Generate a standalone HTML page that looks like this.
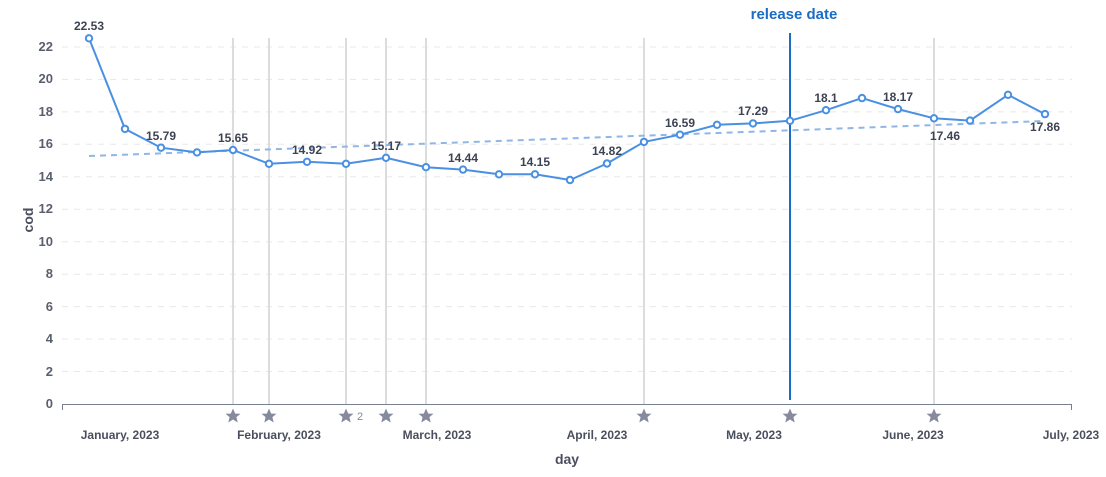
<!DOCTYPE html>
<html><head><meta charset="utf-8"><style>
body{margin:0;background:#fff;}
svg text{font-family:"Liberation Sans",sans-serif;}
</style></head><body>
<svg width="1106" height="472" xmlns="http://www.w3.org/2000/svg">
<defs><polygon id="st" points="0,-7.5 2.2,-2.4 7.5,-2.3 3.4,1.1 4.7,6.5 0,3.5 -4.7,6.5 -3.4,1.1 -7.5,-2.3 -2.2,-2.4" fill="#858a9c"/></defs>
<g stroke="#e8e8e8" stroke-dasharray="6,6" stroke-width="1">
<line x1="62" x2="1072" y1="371.5" y2="371.5"/><line x1="62" x2="1072" y1="339" y2="339"/><line x1="62" x2="1072" y1="306.6" y2="306.6"/><line x1="62" x2="1072" y1="274.2" y2="274.2"/><line x1="62" x2="1072" y1="241.7" y2="241.7"/><line x1="62" x2="1072" y1="209.2" y2="209.2"/><line x1="62" x2="1072" y1="176.8" y2="176.8"/><line x1="62" x2="1072" y1="144.3" y2="144.3"/><line x1="62" x2="1072" y1="111.9" y2="111.9"/><line x1="62" x2="1072" y1="79.4" y2="79.4"/><line x1="62" x2="1072" y1="47" y2="47"/>
</g>
<g font-size="13" font-weight="bold" fill="#5a5f6e" text-anchor="end">
<text x="53" y="408">0</text><text x="53" y="376">2</text><text x="53" y="343">4</text><text x="53" y="311">6</text><text x="53" y="278">8</text><text x="53" y="246">10</text><text x="53" y="213">12</text><text x="53" y="181">14</text><text x="53" y="148">16</text><text x="53" y="116">18</text><text x="53" y="83">20</text><text x="53" y="51">22</text>
</g>
<g stroke="#dcdcdc" stroke-width="2">
<line x1="233" x2="233" y1="38" y2="404"/><line x1="269" x2="269" y1="38" y2="404"/><line x1="346" x2="346" y1="38" y2="404"/><line x1="386" x2="386" y1="38" y2="404"/><line x1="426" x2="426" y1="38" y2="404"/><line x1="644" x2="644" y1="38" y2="404"/><line x1="934" x2="934" y1="38" y2="404"/>
</g>
<line x1="62" x2="1072" y1="404.5" y2="404.5" stroke="#7a7f90" stroke-width="1"/>
<line x1="62.5" x2="62.5" y1="404" y2="410" stroke="#7a7f90"/><line x1="1071.5" x2="1071.5" y1="404" y2="410" stroke="#7a7f90"/>
<line x1="790" x2="790" y1="33" y2="400" stroke="#1a6cc4" stroke-width="2"/>
<text x="794" y="19" font-size="15" font-weight="bold" fill="#1a6cc4" text-anchor="middle">release date</text>
<line x1="89" y1="156" x2="1045" y2="121" stroke="#8fb6e6" stroke-width="2" stroke-dasharray="6,5"/>
<polyline fill="none" stroke="#4a90e2" stroke-width="2" points="89,38.3 125,128.9 161,147.7 197,152.4 233,150 269,163.8 307,161.8 346,163.8 386,157.8 426,167.2 463,169.6 499,174.3 535,174.3 570,180 607,163.5 644,141.9 680,134.7 717,124.8 753,123.4 790,120.8 826,110.2 862,98.1 898,109.1 934,118.3 970,120.6 1008,94.8 1045,114.1"/>
<g fill="#fff" stroke="#4a90e2" stroke-width="2">
<circle cx="89" cy="38.3" r="3.2"/><circle cx="125" cy="128.9" r="3.2"/><circle cx="161" cy="147.7" r="3.2"/><circle cx="197" cy="152.4" r="3.2"/><circle cx="233" cy="150" r="3.2"/><circle cx="269" cy="163.8" r="3.2"/><circle cx="307" cy="161.8" r="3.2"/><circle cx="346" cy="163.8" r="3.2"/><circle cx="386" cy="157.8" r="3.2"/><circle cx="426" cy="167.2" r="3.2"/><circle cx="463" cy="169.6" r="3.2"/><circle cx="499" cy="174.3" r="3.2"/><circle cx="535" cy="174.3" r="3.2"/><circle cx="570" cy="180" r="3.2"/><circle cx="607" cy="163.5" r="3.2"/><circle cx="644" cy="141.9" r="3.2"/><circle cx="680" cy="134.7" r="3.2"/><circle cx="717" cy="124.8" r="3.2"/><circle cx="753" cy="123.4" r="3.2"/><circle cx="790" cy="120.8" r="3.2"/><circle cx="826" cy="110.2" r="3.2"/><circle cx="862" cy="98.1" r="3.2"/><circle cx="898" cy="109.1" r="3.2"/><circle cx="934" cy="118.3" r="3.2"/><circle cx="970" cy="120.6" r="3.2"/><circle cx="1008" cy="94.8" r="3.2"/><circle cx="1045" cy="114.1" r="3.2"/>
</g>
<g font-size="12" font-weight="bold" fill="#3e4354" text-anchor="middle">
<text x="89" y="30">22.53</text><text x="161" y="140">15.79</text><text x="233" y="142">15.65</text><text x="307" y="154">14.92</text><text x="386" y="150">15.17</text><text x="463" y="162">14.44</text><text x="535" y="166">14.15</text><text x="607" y="155">14.82</text><text x="680" y="127">16.59</text><text x="753" y="115">17.29</text><text x="826" y="102">18.1</text><text x="898" y="101">18.17</text><text x="945" y="140">17.46</text><text x="1045" y="131">17.86</text>
</g>
<g>
<use href="#st" x="233" y="416"/><use href="#st" x="269" y="416"/><use href="#st" x="346" y="416"/><use href="#st" x="386" y="416"/><use href="#st" x="426" y="416"/><use href="#st" x="644" y="416"/><use href="#st" x="790" y="416"/><use href="#st" x="934" y="416"/>
</g>
<text x="357" y="420" font-size="11" fill="#858a9c">2</text>
<g font-size="12" font-weight="bold" fill="#4a4f5e" text-anchor="middle">
<text x="120" y="439">January, 2023</text><text x="279" y="439">February, 2023</text><text x="437" y="439">March, 2023</text><text x="597" y="439">April, 2023</text><text x="754" y="439">May, 2023</text><text x="913" y="439">June, 2023</text><text x="1071" y="439">July, 2023</text>
</g>
<text x="567" y="464" font-size="14" font-weight="bold" fill="#4a4f5e" text-anchor="middle">day</text>
<text transform="translate(33,220) rotate(-90)" font-size="14" font-weight="bold" fill="#4a4f5e" text-anchor="middle">cod</text>
</svg>
</body></html>
